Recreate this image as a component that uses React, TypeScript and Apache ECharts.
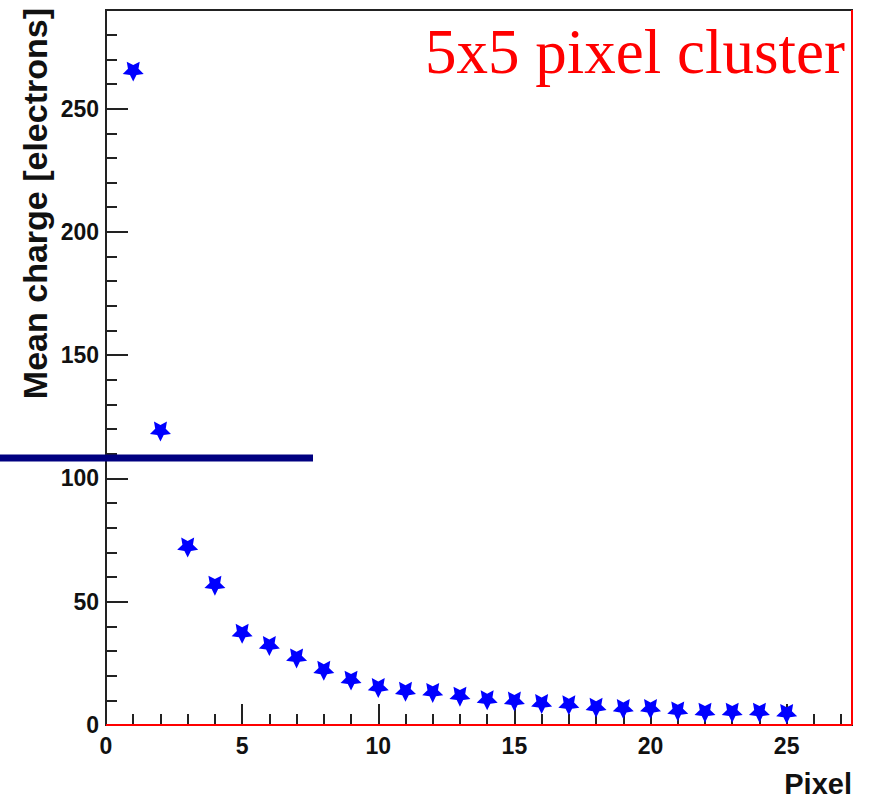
import React, { useEffect, useRef } from "react";
import * as echarts from "echarts";

// Mean collected charge per pixel, ordered by rank within a 5x5 cluster
const pixelIndex = [1, 2, 3, 4, 5, 6, 7, 8, 9, 10, 11, 12, 13, 14, 15, 16, 17, 18, 19, 20, 21, 22, 23, 24, 25];
const meanCharge = [265, 119, 72, 56.5, 37, 32, 27, 22, 18, 15, 13.5, 13, 11.5, 10, 9.5, 8.5, 8, 7, 6.5, 6.5, 5.5, 5, 5, 5, 4.5];

const xRange = [0, 27.4];
const yRange = [0, 290];

const titleText = "5x5 pixel cluster";
const xTitle = "Pixel";
const yTitle = "Mean charge [electrons]";

// Filled five-pointed star (point down)
const STAR =
  "path://M0,10 L-2.94,4.05 L-9.51,3.09 L-4.76,-1.55 L-5.88,-8.09 L0,-5 L5.88,-8.09 L4.76,-1.55 L9.51,3.09 L2.94,4.05 Z";

const AXIS_COLOR = "#222";
const SANS = '"Liberation Sans", Arial, Helvetica, sans-serif';

export default function App() {
  const ref = useRef<HTMLDivElement>(null);

  useEffect(() => {
    if (!ref.current) return;
    const chart = echarts.init(ref.current, null, { renderer: "svg" });

    const labelStyle = {
      color: "#111",
      fontFamily: SANS,
      fontWeight: "bold" as const,
      fontSize: 23,
    };

    chart.setOption({
      animation: false,
      backgroundColor: "#fff",
      grid: {
        left: 106,
        top: 10,
        right: 17,
        bottom: 74,
        show: true,
        borderColor: AXIS_COLOR,
        borderWidth: 2,
        backgroundColor: "transparent",
      },
      xAxis: [
        {
          type: "value",
          min: xRange[0],
          max: xRange[1],
          interval: 5,
          splitLine: { show: false },
          axisLine: { show: true, lineStyle: { color: AXIS_COLOR, width: 2 } },
          axisTick: { show: true, inside: true, length: 21, lineStyle: { color: AXIS_COLOR, width: 2 } },
          axisLabel: {
            ...labelStyle,
            margin: 9,
            formatter: (v: number) => (v % 5 === 0 ? String(v) : ""),
          },
        },
        {
          type: "value",
          min: xRange[0],
          max: xRange[1],
          interval: 1,
          position: "bottom",
          splitLine: { show: false },
          axisLine: { show: false },
          axisTick: { show: true, inside: true, length: 11, lineStyle: { color: AXIS_COLOR, width: 2 } },
          axisLabel: { show: false },
        },
      ],
      yAxis: [
        {
          type: "value",
          min: yRange[0],
          max: yRange[1],
          interval: 50,
          splitLine: { show: false },
          axisLine: { show: true, lineStyle: { color: AXIS_COLOR, width: 2 } },
          axisTick: { show: true, inside: true, length: 22, lineStyle: { color: AXIS_COLOR, width: 2 } },
          axisLabel: {
            ...labelStyle,
            margin: 7,
            formatter: (v: number) => (v % 50 === 0 ? String(v) : ""),
          },
        },
        {
          type: "value",
          min: yRange[0],
          max: yRange[1],
          interval: 10,
          position: "left",
          splitLine: { show: false },
          axisLine: { show: false },
          axisTick: { show: true, inside: true, length: 11, lineStyle: { color: AXIS_COLOR, width: 2 } },
          axisLabel: { show: false },
        },
      ],
      series: [
        {
          type: "scatter",
          xAxisIndex: 0,
          yAxisIndex: 0,
          symbol: STAR,
          symbolKeepAspect: true,
          symbolSize: 21,
          itemStyle: { color: "#0000ff", opacity: 1 },
          data: pixelIndex.map((p, i) => [p, meanCharge[i]]),
          markLine: {
            silent: true,
            symbol: "none",
            label: { show: false },
            lineStyle: { color: "#ff0000", width: 2, type: "solid", opacity: 1 },
            data: [{ yAxis: yRange[0] }, { xAxis: xRange[1] }],
          },
          z: 5,
        },
      ],
      graphic: [
        {
          type: "line",
          z: 20,
          shape: { x1: 0, y1: 458, x2: 313, y2: 458 },
          style: { stroke: "#000080", lineWidth: 7 },
        },
        {
          type: "text",
          z: 20,
          x: 845,
          y: 52,
          style: {
            text: titleText,
            font: '63px "Liberation Serif", "Times New Roman", serif',
            fill: "#ff0000",
            align: "right",
            verticalAlign: "middle",
          },
        },
        {
          type: "text",
          z: 20,
          x: 35,
          y: 8,
          rotation: Math.PI / 2,
          style: {
            text: yTitle,
            font: `bold 34px ${SANS}`,
            fill: "#111",
            align: "right",
            verticalAlign: "middle",
          },
        },
        {
          type: "text",
          z: 20,
          x: 852,
          y: 784,
          style: {
            text: xTitle,
            font: `bold 29px ${SANS}`,
            fill: "#111",
            align: "right",
            verticalAlign: "middle",
          },
        },
      ],
    });

    return () => chart.dispose();
  }, []);

  return (
    <div
      ref={ref}
      style={{ position: "absolute", left: 0, top: 0, width: 869, height: 799 }}
    />
  );
}
